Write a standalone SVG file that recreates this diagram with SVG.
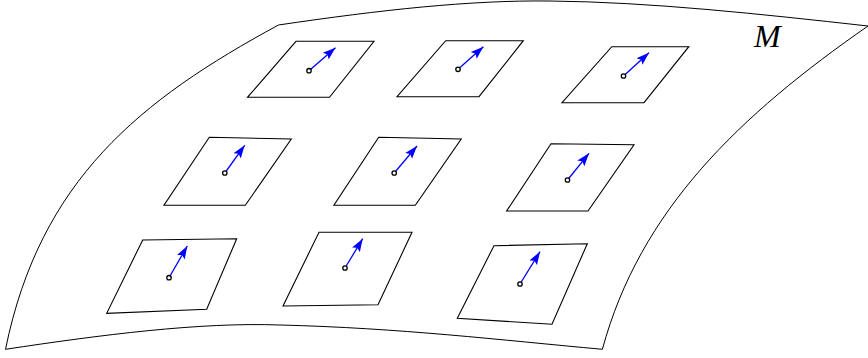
<svg xmlns="http://www.w3.org/2000/svg" width="868" height="358" viewBox="0 0 868 358">
<style>
.surf{fill:none;stroke:#000;stroke-width:1}
.tp{fill:none;stroke:#000;stroke-width:1.1;stroke-linejoin:miter}
.vec{stroke:#0000ff;stroke-width:1.3;fill:none}
.pt{fill:#fff;stroke:#000;stroke-width:1.3}
.lbl{font-family:"Liberation Serif","DejaVu Serif",serif;font-style:italic;font-size:32px;fill:#000}
</style>
<defs>
<marker id="ah" markerUnits="userSpaceOnUse" markerWidth="14" markerHeight="10" viewBox="0 0 14 10" refX="13" refY="5" orient="auto">
<path d="M0,0.5 L13,5 L0,9.5 L2.5,5 Z" fill="#0000ff"/>
</marker>
</defs>
<g id="surface">
<path class="surf" d="M278.5,25 C380,10 470,0 550,1 C650,2 760,14 868,26 C740,115 640,210 602.4,349.3 C500,340 400,328 280,325 C200,322 100,335 5.5,349.3 C40,180 140,100 278.5,25 Z"/>
<text class="lbl" x="754" y="46.5">M</text>
</g>
<g id="tp1"><path class="tp" d="M296,41.3 L374,41.3 L329.5,97.3 L247.5,97.3 Z"/></g>
<g id="tp2"><path class="tp" d="M445.7,40.7 L523.3,40.7 L479,96.7 L397,96.7 Z"/></g>
<g id="tp3"><path class="tp" d="M611.8,46.7 L688.8,46.7 L644,102.7 L562,102.7 Z"/></g>
<g id="tp4"><path class="tp" d="M209.3,137.3 L291.3,139 L245.3,205.3 L164,205.3 Z"/></g>
<g id="tp5"><path class="tp" d="M378.7,137.3 L461.2,139 L415.3,205.3 L333.9,205.3 Z"/></g>
<g id="tp6"><path class="tp" d="M551,143.7 L634,144.7 L588,211 L506.6,211 Z"/></g>
<g id="tp7"><path class="tp" d="M142.7,240 L236.7,238.7 L206.7,309.3 L106.7,313.3 Z"/></g>
<g id="tp8"><path class="tp" d="M319,232.3 L412,232.3 L378,304.7 L283,306 Z"/></g>
<g id="tp9"><path class="tp" d="M494,245.7 L587.3,243.7 L552,324.3 L457.3,318.3 Z"/></g>
<g id="vectors">
<line class="vec" x1="309" y1="70.7" x2="335.5" y2="47.7" marker-end="url(#ah)"/>
<line class="vec" x1="458" y1="69.3" x2="483.4" y2="46.7" marker-end="url(#ah)"/>
<line class="vec" x1="623.5" y1="76" x2="649" y2="52.7" marker-end="url(#ah)"/>
<line class="vec" x1="224.8" y1="173" x2="244.7" y2="145.3" marker-end="url(#ah)"/>
<line class="vec" x1="394.2" y1="173" x2="417" y2="146" marker-end="url(#ah)"/>
<line class="vec" x1="567.5" y1="180" x2="589" y2="153.3" marker-end="url(#ah)"/>
<line class="vec" x1="169" y1="277.7" x2="187.3" y2="246" marker-end="url(#ah)"/>
<line class="vec" x1="345" y1="268" x2="362.7" y2="238.7" marker-end="url(#ah)"/>
<line class="vec" x1="520" y1="284" x2="540" y2="251.7" marker-end="url(#ah)"/>
</g>
<g id="points">
<circle class="pt" cx="309" cy="70.7" r="2.2"/>
<circle class="pt" cx="458" cy="69.3" r="2.2"/>
<circle class="pt" cx="623.5" cy="76" r="2.2"/>
<circle class="pt" cx="224.8" cy="173" r="2.2"/>
<circle class="pt" cx="394.2" cy="173" r="2.2"/>
<circle class="pt" cx="567.5" cy="180" r="2.2"/>
<circle class="pt" cx="169" cy="277.7" r="2.2"/>
<circle class="pt" cx="345" cy="268" r="2.2"/>
<circle class="pt" cx="520" cy="284" r="2.2"/>
</g>
</svg>
